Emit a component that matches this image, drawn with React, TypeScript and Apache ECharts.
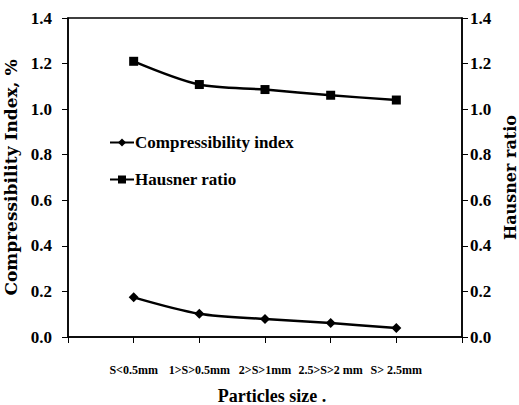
import React, { useEffect, useRef } from "react";
import * as echarts from "echarts";

const categories = ["", "S<0.5mm", "1>S>0.5mm", "2>S>1mm", "2.5>S>2 mm", "S> 2.5mm", ""];
const compressibility = [null, 0.174, 0.102, 0.079, 0.061, 0.039, null];
const hausner = [null, 1.21, 1.108, 1.086, 1.061, 1.04, null];

const FONT = "'Liberation Serif', 'Times New Roman', serif";
const TITLE_FONT = "'DejaVu Serif', 'Liberation Serif', serif";

export default function App() {
  const ref = useRef<HTMLDivElement>(null);
  useEffect(() => {
    if (!ref.current) return;
    const chart = echarts.init(ref.current, undefined, { renderer: "svg" });
    const axisCommon = {
      type: "value" as const,
      min: 0,
      max: 1.4,
      interval: 0.2,
      splitLine: { show: false },
      axisLine: { show: true, lineStyle: { color: "#000", width: 1.5 } },
      axisTick: { show: true, inside: false, length: 6, lineStyle: { color: "#000", width: 1 } },
      axisLabel: {
        color: "#000",
        fontFamily: FONT,
        fontWeight: "bold" as const,
        fontSize: 17,
        formatter: (v: number) => v.toFixed(1),
      },
      nameLocation: "middle" as const,
      nameRotate: 90,
      nameTextStyle: { color: "#000", fontFamily: TITLE_FONT, fontWeight: "bold" as const, fontSize: 17 },
    };
    chart.setOption({
      animation: false,
      backgroundColor: "#fff",
      grid: {
        left: 68,
        top: 18,
        width: 394,
        height: 319,
        show: true,
        borderColor: "#000",
        borderWidth: 1.5,
        containLabel: false,
        outerBoundsMode: "none",
      },
      legend: {
        orient: "vertical",
        left: 104,
        top: 129,
        itemWidth: 24,
        itemHeight: 10,
        itemGap: 20,
        textStyle: { color: "#000", fontFamily: FONT, fontWeight: "bold", fontSize: 17, padding: [0, 0, 0, -4] },
        data: ["Compressibility index", "Hausner ratio"],
      },
      xAxis: {
        type: "category",
        data: categories,
        boundaryGap: false,
        axisLine: { lineStyle: { color: "#000", width: 1.5 } },
        axisTick: { show: true, length: 6, interval: 0, lineStyle: { color: "#000" } },
        axisLabel: {
          interval: 0,
          color: "#000",
          fontFamily: FONT,
          fontWeight: "bold",
          fontSize: 12,
          margin: 27,
        },
        name: "Particles size .",
        nameLocation: "middle",
        nameGap: 50,
        nameTextStyle: { color: "#000", fontFamily: FONT, fontWeight: "bold", fontSize: 18, padding: [0, 0, 0, 14] },
      },
      yAxis: [
        {
          ...axisCommon,
          position: "left",
          name: "Compressibility Index, %",
          nameGap: 47,
          axisLabel: { ...axisCommon.axisLabel, margin: 16 },
        },
        {
          ...axisCommon,
          position: "right",
          name: "Hausner ratio",
          nameGap: 36,
          nameTextStyle: { ...axisCommon.nameTextStyle, fontSize: 16 },
          axisLabel: { ...axisCommon.axisLabel, margin: 8 },
        },
      ],
      series: [
        {
          name: "Compressibility index",
          type: "line",
          yAxisIndex: 0,
          data: compressibility,
          smooth: 0.3,
          symbol: "diamond",
          symbolSize: 10,
          lineStyle: { color: "#000", width: 2.5 },
          itemStyle: { color: "#000" },
        },
        {
          name: "Hausner ratio",
          type: "line",
          yAxisIndex: 1,
          data: hausner,
          smooth: 0.3,
          symbol: "rect",
          symbolSize: 9,
          lineStyle: { color: "#000", width: 2.5 },
          itemStyle: { color: "#000" },
        },
      ],
    });
    return () => chart.dispose();
  }, []);
  return <div ref={ref} style={{ width: 519, height: 405, position: "absolute", left: 0, top: 0 }} />;
}
